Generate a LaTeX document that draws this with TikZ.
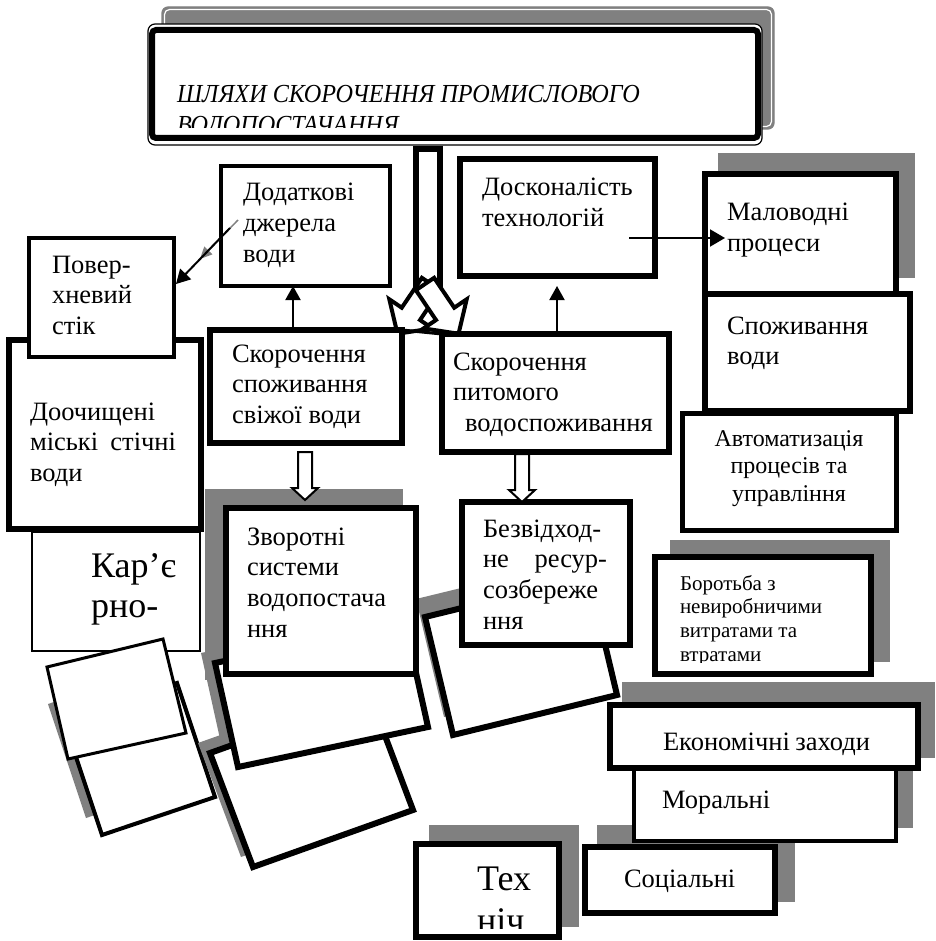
\documentclass[tikz,border=0pt]{standalone}
\usepackage{fontspec}
\setmainfont{Liberation Serif}
\usetikzlibrary{arrows.meta,calc,fit}
\definecolor{shadowgray}{HTML}{808080}
\newcommand{\txtl}[1]{\begin{tabular}[t]{@{}l@{}}#1\end{tabular}}
\newcommand{\txtc}[1]{\begin{tabular}[t]{@{}c@{}}#1\end{tabular}}
\newcommand{\fsz}[2]{\fontsize{#1}{#2}\selectfont}

\begin{document}
\begin{tikzpicture}[x=1pt,y=-1pt,
  box/.style={draw=black, fill=white, line width=6pt, inner sep=0pt, outer sep=0pt, line join=miter},
  txt/.style={anchor=base west, inner sep=0pt, outer sep=0pt, font=\fsz{26.5}{30.8}},
  arr/.style={line width=2pt, -{Triangle[length=14pt,width=15pt]}},
  hollow/.style={draw=black, fill=white, line width=4pt, line join=miter},
  tilted/.style={draw=black, fill=white, line width=6pt, line join=miter},
  drop/.style={fill=shadowgray, draw=none},
  diagarrow/.pic={
    \draw[hollow] (0,-11) -- (36,-11) -- (36,-26) -- (60,0) -- (36,26) -- (36,11) -- (0,11) -- cycle;
  },
  downarrow/.pic={
    \draw[hollow, line width=2pt] (-7,0) -- (-7,36) -- (-13,36) -- (0,48) -- (13,36) -- (7,36) -- (7,0) -- cycle;
  },
]
\fill[white] (0,0) rectangle (935,941);
\useasboundingbox (0,0) rectangle (935,941);

% ---------- title ----------
\fill[drop, rounded corners=6pt] (162,7) rectangle (774,129);
\draw[white, line width=1.2pt, rounded corners=5pt] (164.5,9.5) rectangle (771.5,126.5);
\draw[shadowgray, line width=1.2pt, rounded corners=6pt] (162,7) rectangle (774,129);
\node[fit={(148,24) (762,145)}, draw, fill=white, line width=1.2pt, rounded corners=7pt, inner sep=0pt] (frame) {};
\node[fit={(152,30) (758,138)}, draw, line width=6pt, rounded corners=4pt, inner sep=0pt] (title) {};
\begin{scope}
  \clip (156,34) rectangle (754,128);
  \node[txt, font=\fsz{26}{31}\itshape] (ttl) at (177,103) {\txtl{\scalebox{0.93}[1]{ШЛЯХИ СКОРОЧЕННЯ ПРОМИСЛОВОГО}\\\scalebox{0.93}[1]{ВОДОПОСТАЧАННЯ}}};
\end{scope}

% ---------- stem with split arrows ----------
\node[box, fit={(416,149) (440,287)}] (stem) {};
\pic[rotate=-124] at (431,284) {diagarrow};
\pic[rotate=-56] at (425,284) {diagarrow};

% ---------- right column ----------
\fill[drop] (718,153) rectangle (915,278);
\node[box, fit={(705,174) (896,295)}] (mal) {};
\node[txt] (tmal) at (727,221) {\txtl{Маловодні\\процеси}};
\node[box, fit={(705,294) (910,411)}] (spv) {};
\node[txt] (tspv) at (727,334) {\txtl{Споживання\\води}};
\node[box, line width=5pt, fit={(682,413) (896,530)}] (avt) {};
\node[anchor=base, inner sep=0pt, font=\fsz{24}{27.6}] (tavt) at (789,446) {\txtc{Автоматизація\\процесів та\\управління}};

% ---------- technology box ----------
\node[box, fit={(460,159) (655,276)}] (dos) {};
\node[txt] (tdos) at (482,196) {\txtl{Досконалість\\технологій}};
\coordinate (m1) at (629,238);
\coordinate (m2) at (725,238);
\draw[arr, -{Triangle[length=15pt,width=17pt]}] (m1) -- (m2);

% ---------- specific consumption ----------
\node[box, fit={(442,334) (669,452)}] (sp) {};
\node[txt] (tsp) at (453,370) {\txtl{Скорочення\\питомого\\\hspace*{12pt}водоспоживання}};
\coordinate (u2) at (557,0);
\draw[arr, shorten >=10pt] (sp.north -| u2) -- (dos.south -| u2);

% ---------- fresh water ----------
\node[box, line width=4pt, fit={(221,166) (390,286)}] (dod) {};
\node[txt] (tdod) at (243,201) {\txtl{Додаткові\\джерела\\води}};
\node[box, fit={(210,330) (402,443)}] (ss) {};
\node[txt] (tss) at (232,362) {\txtl{Скорочення\\споживання\\свіжої води}};
\coordinate (u1) at (293,0);
\draw[arr] (ss.north -| u1) -- (dod.south -| u1);
\draw[line width=3pt] (ss.north east) -- (sp.north west);

% ---------- left column ----------
\node[box, fit={(9,340) (201,529)}] (doo) {};
\node[txt] (tdoo) at (30,420) {\txtl{Доочищені\\\makebox[146pt][s]{міські стічні}\\води}};
\node[box, line width=4pt, fit={(29,238) (174,357)}] (pov) {};
\node[txt] (tpov) at (52,273) {\txtl{Повер-\\хневий\\стік}};
\coordinate (g1) at (238,220);
\coordinate (g2) at (200,259);
\coordinate (g3) at (230,228);
\coordinate (g4) at (176,284);
\draw[shadowgray, line width=1.5pt, -{Triangle[length=12pt,width=11pt]}] (g1) -- (g2);
\draw[arr] (g3) -- (g4);

\node[box, line width=2pt, fit={(32,532) (200,651)}] (kar) {};
\node[txt, font=\fsz{36}{40}] (tkar) at (91,577) {\txtl{Кар’є\\рно-}};

% tilted empty cards, lower left
\fill[drop] (48,704) -- (161,666) -- (199,780) -- (86,818) -- cycle;
\draw[tilted, line width=4pt] (64,721) -- (177,683) -- (215,797) -- (102,835) -- cycle;
\draw[tilted, line width=3pt] (47,667) -- (163,639) -- (186,733) -- (68,759) -- cycle;

% ---------- recycling systems group ----------
\fill[drop] (416,599) -- (580,559) -- (608,677) -- (444,717) -- cycle;
\draw[tilted] (425,617) -- (589,577) -- (617,695) -- (453,735) -- cycle;
\fill[drop] (205,489) rectangle (403,680);
\fill[drop] (198,743) -- (358,686) -- (401,800) -- (241,857) -- cycle;
\fill[drop] (201,653) -- (391,613) -- (414,717) -- (224,757) -- cycle;
\draw[tilted] (210,753) -- (370,696) -- (413,810) -- (253,867) -- cycle;
\draw[tilted] (215,663) -- (405,623) -- (428,727) -- (238,767) -- cycle;
\node[box, fit={(226,508) (416,674)}] (zvo) {};
\node[txt] (tzvo) at (247,545) {\txtl{Зворотні\\системи\\водопостача\\ння}};

\node[box, fit={(462,502) (630,645)}] (bez) {};
\node[txt] (tbez) at (483,537) {\txtl{Безвідход-\\\makebox[124pt][s]{не ресур-}\\созбереже\\ння}};

\pic at (305,452) {downarrow};
\pic at (522,454) {downarrow};

% ---------- losses ----------
\fill[drop] (670,540) rectangle (890,662);
\node[box, fit={(655,557) (871,674)}] (bor) {};
\begin{scope}
  \clip (658,560) rectangle (868,662);
  \node[txt, font=\fsz{21}{23.7}] (tbor) at (680,590) {\txtl{Боротьба з\\невиробничими\\витратами та\\втратами}};
\end{scope}

% ---------- measures ----------
\fill[drop] (597,825) rectangle (795,902);
\fill[drop] (650,755) rectangle (913,828);
\node[box, line width=4pt, fit={(634,768) (896,841)}] (mor) {};
\node[txt] (tmor) at (662,808) {Моральні};
\node[box, fit={(585,847) (775,913)}] (soc) {};
\node[txt] (tsoc) at (624,887) {Соціальні};
\fill[drop] (622,682) rectangle (935,758);
\node[box, fit={(610,705) (918,768)}] (eko) {};
\node[txt] (teko) at (663,750) {\makebox[207pt][s]{Економічні заходи}};

\fill[drop] (429,825) rectangle (579,927);
\node[box, fit={(416,844) (559,937)}] (teh) {};
\begin{scope}
  \clip (419,847) rectangle (556,928);
  \node[txt, font=\fsz{36}{42.5}] (tteh) at (477,890) {\txtl{Тех\\ніч}};
\end{scope}
\end{tikzpicture}
\end{document}
